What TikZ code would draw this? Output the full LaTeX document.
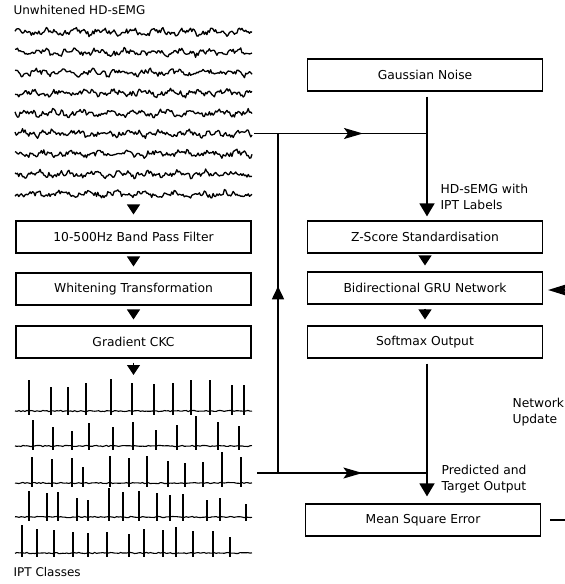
\documentclass[tikz,border=0pt]{standalone}
\usepackage{fontspec}
\setmainfont{DejaVu Sans}
\usetikzlibrary{arrows.meta,positioning,decorations.markings}

\tikzset{every picture/.style={line width=1.2pt}}
\tikzset{
  block/.style={draw, minimum width=235pt, minimum height=32pt, inner sep=0pt, font=\fontsize{12.3}{14}\selectfont},
  note/.style={align=left, anchor=west, inner sep=0pt, font=\fontsize{12.3}{16}\selectfont},
  stepgap/.style={-{Triangle[length=10pt,width=13pt]}, shorten <=4pt, shorten >=6pt},
  flow/.style={line width=1.6pt},
  midarrow/.style={postaction={decorate}, decoration={markings,
      mark=at position #1 with {\arrow{Stealth[length=19pt,width=11pt,inset=4pt]}}}},
  uparrow/.style={postaction={decorate}, decoration={markings,
      mark=at position #1 with {\arrow{Triangle[length=13pt,width=12pt]}}}},
}

\begin{document}
\begin{tikzpicture}[x=1pt,y=-1pt]
    \useasboundingbox (0,0) rectangle (565,584);
    \pgfmathsetseed{11}

    % unwhitened signals
    \node[note, font=\fontsize{12}{14}\selectfont] (rawtitle) at (13,10) {Unwhitened HD-sEMG};
    \foreach \k in {0,...,8}
        \draw[line width=1.3pt, line join=round] plot[domain=15:252, samples=190]
            (\x, {32+20.3*\k + 2.2*rand + 1.8*sin(13*\x+70*\k) + 1.2*sin(37*\x+30*\k)});
    \coordinate (emgout) at (254,133.5);
    \coordinate (emgbot) at (133.5,199);

    % decomposition chain
    \node[block] (bpf) at (133.5,237) {10-500Hz Band Pass Filter};
    \node[block] (white) at (133.5,289) {Whitening Transformation};
    \node[block] (ckc) at (133.5,342) {Gradient CKC};
    \draw[stepgap, shorten <=6pt, shorten >=6pt] (emgbot) -- (bpf.north);
    \draw[stepgap] (bpf.south) -- (white.north);
    \draw[stepgap] (white.south) -- (ckc.north);
    \coordinate (ipttop) at (133.5,378);
    \draw[stepgap, shorten >=3pt] (ckc.south) -- (ipttop);

    % spike trains
    \foreach \base/\spikes in {
        411/{29/380,51/387,68/387,86/383,111/379,132/383,154/384,173/383,191/380,210/380,232/385,244/385},
        446/{33/420,53/427,72/431,89/423,113/427,133/422,156/430,177/425,196/416,218/422,239/426},
        483/{32/457,52/459,72/458,83/467,110/456,129/458,147/456,168/461,185/463,203/462,222/452,241/457},
        517/{29/491,47/493,58/492,77/498,88/500,109/488,123/492,139/491,157/493,170/495,183/494,207/500,220/498,246/504},
        553/{22/525,37/529,54/530,73/532,88/533,107/532,129/534,144/529,163/530,176/527,193/531,213/531,230/537}} {
        \draw[line width=1.1pt] plot[domain=15:252, samples=120] (\x, {\base + 0.6*rand});
        \foreach \sx/\st in \spikes
            \draw[line width=1.6pt] (\sx,\st) -- (\sx,\base+4);
    }
    \node[note, font=\fontsize{12}{14}\selectfont] (ipttitle) at (13,572) {IPT Classes};
    \coordinate (iptout) at (257,473);

    % network side
    \node[block] (noise) at (425,75) {Gaussian Noise};
    \node[block] (zscore) at (425,237) {Z-Score Standardisation};
    \node[block] (gru) at (425,288) {Bidirectional GRU Network};
    \node[block] (softmax) at (425,342) {Softmax Output};
    \node[block] (mse) at (423,520) {Mean Square Error};
    \draw[stepgap] (zscore.south) -- (gru.north);
    \draw[stepgap] (gru.south) -- (softmax.north);

    \coordinate (emgjoin) at (427,133.5);
    \coordinate (iptjoin) at (427,473);
    \coordinate (leftlow) at (278,473);
    \coordinate (lefttop) at (278,133.5);
    \draw[flow, midarrow=0.63] (emgout) -- (emgjoin);
    \draw[flow, midarrow=0.62] (iptout) -- (iptjoin);
    \draw[flow, uparrow=0.55] (leftlow) -- (lefttop);
    \draw[flow, -{Triangle[length=13pt,width=15pt]}, shorten <=5pt, shorten >=4pt] (noise.south -| emgjoin) -- (zscore.north -| emgjoin);
    \draw[flow, -{Triangle[length=13pt,width=15pt]}, shorten <=5pt, shorten >=7pt] (softmax.south -| iptjoin) -- (mse.north -| iptjoin);

    \node[note] (hdlabel) at (440,197) {HD-sEMG with\\IPT Labels};
    \node[note] (updlabel) at (512,412) {Network\\Update};
    \node[note] (predlabel) at (441,479) {Predicted and\\Target Output};

    % feedback to the network
    \coordinate (fbout) at (565,520);
    \coordinate (fbin) at (565,290);
    \draw[flow, shorten <=9pt] (mse.east) -- (fbout);
    \draw[flow, -{Stealth[length=18pt,width=11pt,inset=2pt]}, shorten >=5pt] (fbin) -- (gru.east |- fbin);
\end{tikzpicture}
\end{document}
